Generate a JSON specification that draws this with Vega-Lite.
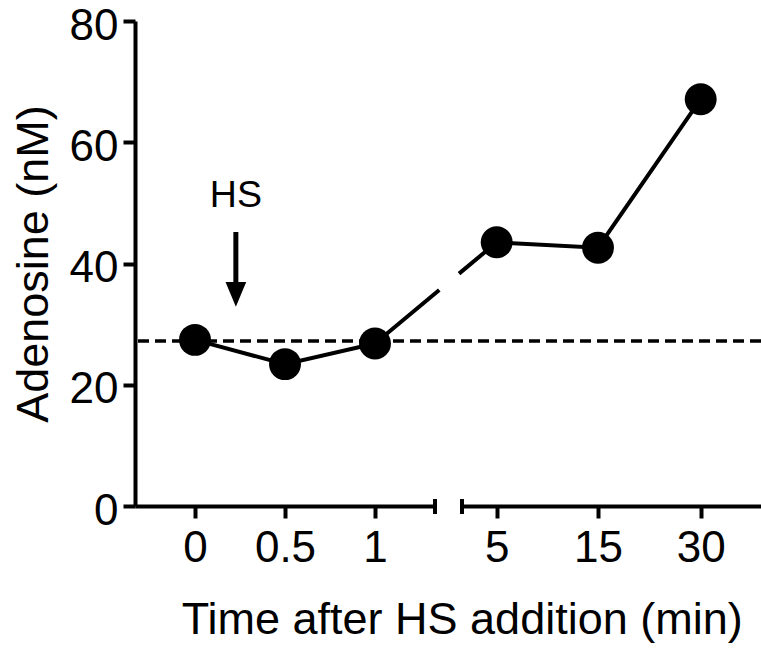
{
  "$schema": "https://vega.github.io/schema/vega-lite/v6.json",
  "width": 626,
  "height": 485,
  "autosize": {"type": "none"},
  "padding": {"left": 135, "top": 21, "right": 0, "bottom": 142},
  "background": "white",
  "config": {
    "font": "Liberation Sans",
    "view": {"stroke": null},
    "axis": {
      "domainColor": "black", "domainWidth": 4,
      "tickColor": "black", "tickWidth": 4, "tickSize": 12,
      "labelColor": "black", "labelFontSize": 44, "labelFont": "Liberation Sans",
      "titleColor": "black", "titleFontSize": 45, "titleFontWeight": "normal", "titleFont": "Liberation Sans",
      "grid": false
    }
  },
  "resolve": {"scale": {"x": "independent"}},
  "layer": [
    {
      "data": {"values": [{"baseline": 27.2}]},
      "mark": {"type": "rule", "color": "black", "strokeWidth": 3.5, "strokeDash": [11, 6]},
      "encoding": {
        "y": {
          "field": "baseline", "type": "quantitative",
          "scale": {"domain": [0, 80], "nice": false},
          "title": "Adenosine (nM)",
          "axis": {
            "values": [0, 20, 40, 60, 80],
            "labelPadding": 5,
            "labelOffset": 5,
            "titleX": -88, "titleY": 242.5, "titleAngle": -90,
            "titleAlign": "center", "titleBaseline": "alphabetic"
          }
        }
      }
    },
    {
      "data": {"values": [{"time": 1, "adenosine": 26.8}, {"time": 5, "adenosine": 43.5}]},
      "mark": {"type": "line", "color": "black", "strokeWidth": 4, "strokeDash": [83.6, 25.7, 300]},
      "encoding": {
        "x": {"field": "time", "type": "quantitative", "scale": {"domain": [1, 5], "range": [240, 361.7], "nice": false, "zero": false}, "axis": null},
        "y": {"field": "adenosine", "type": "quantitative", "scale": {"domain": [0, 80], "nice": false}, "title": "Adenosine (nM)"}
      }
    },
    {
      "encoding": {
        "x": {
          "field": "time", "type": "quantitative",
          "scale": {"domain": [-0.3333333333333333, 1.3333333333333333], "range": [0, 300], "nice": false, "zero": false},
          "axis": {
            "orient": "bottom",
            "values": [0, 0.5, 1],
            "labelExpr": "format(datum.value, '~g')",
            "labelPadding": 8,
            "title": "Time after HS addition (min)",
            "titleX": 326.7, "titleY": 127, "titleAlign": "center", "titleBaseline": "alphabetic"
          }
        }
      },
      "layer": [
        {
          "data": {"values": [{"time": 0, "adenosine": 27.4}, {"time": 0.5, "adenosine": 23.4}, {"time": 1, "adenosine": 26.8}]},
          "mark": {"type": "line", "color": "black", "strokeWidth": 4, "point": {"filled": true, "size": 1018, "color": "black", "opacity": 1}},
          "encoding": {"y": {"field": "adenosine", "type": "quantitative", "scale": {"domain": [0, 80], "nice": false}, "title": "Adenosine (nM)"}}
        },
        {
          "data": {"values": [{"time": 1.3333333333333333, "capTop": 1.15, "capBottom": -1.32}]},
          "mark": {"type": "rule", "color": "black", "strokeWidth": 4},
          "encoding": {
            "y": {"field": "capTop", "type": "quantitative", "scale": {"domain": [0, 80], "nice": false}, "title": "Adenosine (nM)"},
            "y2": {"field": "capBottom"}
          }
        },
        {
          "data": {"values": [{"time": 0.227, "shaftTop": 45.2, "shaftBottom": 36.5}]},
          "mark": {"type": "rule", "color": "black", "strokeWidth": 5},
          "encoding": {
            "y": {"field": "shaftTop", "type": "quantitative", "scale": {"domain": [0, 80], "nice": false}, "title": "Adenosine (nM)"},
            "y2": {"field": "shaftBottom"}
          }
        },
        {
          "data": {"values": [{"time": 0.227, "head": 34.9}]},
          "mark": {"type": "point", "shape": "M-1,-1.2L1,-1.2L0,1.2Z", "size": 428, "filled": true, "color": "black", "opacity": 1},
          "encoding": {"y": {"field": "head", "type": "quantitative", "scale": {"domain": [0, 80], "nice": false}, "title": "Adenosine (nM)"}}
        },
        {
          "data": {"values": [{"time": 0.227, "labelY": 49.3, "label": "HS"}]},
          "mark": {"type": "text", "fontSize": 37.5, "align": "center", "baseline": "alphabetic", "color": "black", "font": "Liberation Sans"},
          "encoding": {
            "y": {"field": "labelY", "type": "quantitative", "scale": {"domain": [0, 80], "nice": false}, "title": "Adenosine (nM)"},
            "text": {"field": "label"}
          }
        }
      ]
    },
    {
      "encoding": {
        "x": {
          "field": "time", "type": "quantitative",
          "scale": {"domain": [3, 5, 15, 30, 40], "range": [327, 361.7, 463, 565.7, 626], "nice": false, "zero": false},
          "axis": {
            "orient": "bottom",
            "values": [5, 15, 30],
            "labelExpr": "format(datum.value, '~g')",
            "labelPadding": 8,
            "title": null
          }
        }
      },
      "layer": [
        {
          "data": {"values": [{"time": 5, "adenosine": 43.5}, {"time": 15, "adenosine": 42.6}, {"time": 30, "adenosine": 67.1}]},
          "mark": {"type": "line", "color": "black", "strokeWidth": 4, "point": {"filled": true, "size": 1018, "color": "black", "opacity": 1}},
          "encoding": {"y": {"field": "adenosine", "type": "quantitative", "scale": {"domain": [0, 80], "nice": false}, "title": "Adenosine (nM)"}}
        },
        {
          "data": {"values": [{"time": 3, "capTop": 1.15, "capBottom": -1.32}]},
          "mark": {"type": "rule", "color": "black", "strokeWidth": 4},
          "encoding": {
            "y": {"field": "capTop", "type": "quantitative", "scale": {"domain": [0, 80], "nice": false}, "title": "Adenosine (nM)"},
            "y2": {"field": "capBottom"}
          }
        }
      ]
    }
  ]
}
